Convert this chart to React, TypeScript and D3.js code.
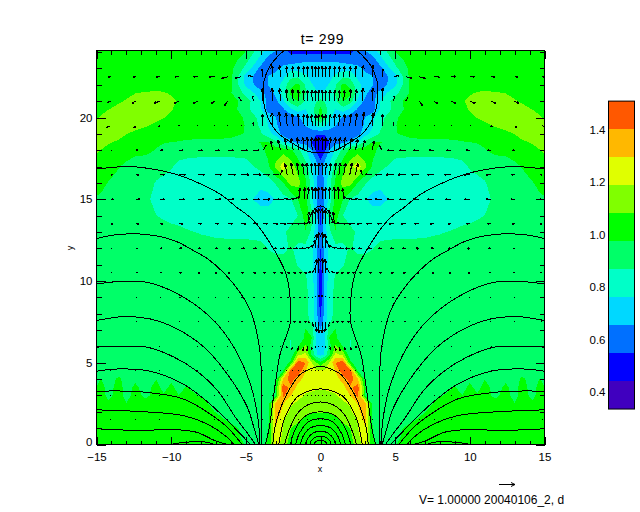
import { useEffect, useRef } from "react";
import * as d3 from "d3";

// grid of the density field, right half only, the left half is mirrored
const fieldY = [0, 0.5, 1, 1.5, 2, 2.5, 3, 3.5, 4, 4.5, 5, 5.5, 6, 6.5, 7, 7.5, 8, 9, 10, 11, 12, 13, 14, 15, 16, 17, 18, 18.5, 19, 19.5, 20, 20.5, 21, 21.5, 22, 22.5, 23, 23.5, 24.1];
const innerX = [0, 0.3, 0.6, 1, 1.5, 2, 2.5, 3, 3.5, 4];
const outerX = [5, 6, 7, 8, 9, 9.5, 10, 10.5, 11, 11.7, 12.4, 13, 13.5, 14.2, 14.7, 15];

const densityInner = [
  [1.03, 1.03, 1.03, 1.03, 1.03, 1.04, 1.13, 1.26, 1.0, 0.92],
  [1.03, 1.03, 1.03, 1.03, 1.04, 1.06, 1.16, 1.28, 0.98, 0.92],
  [1.04, 1.04, 1.04, 1.04, 1.06, 1.085, 1.19, 1.29, 0.97, 0.92],
  [1.05, 1.05, 1.05, 1.06, 1.09, 1.14, 1.19, 1.34, 0.95, 0.92],
  [1.085, 1.085, 1.09, 1.1, 1.14, 1.17, 1.27, 1.36, 0.93, 0.92],
  [1.12, 1.12, 1.13, 1.14, 1.17, 1.2, 1.3, 1.33, 0.92, 0.92],
  [1.17, 1.17, 1.17, 1.18, 1.22, 1.3, 1.43, 0.97, 0.92, 0.92],
  [1.2, 1.2, 1.21, 1.22, 1.26, 1.38, 1.46, 0.98, 0.92, 0.92],
  [1.24, 1.24, 1.24, 1.26, 1.33, 1.47, 1.3, 0.93, 0.92, 0.92],
  [1.2, 1.21, 1.22, 1.3, 1.48, 1.45, 0.97, 0.92, 0.92, 0.92],
  [1.02, 1.09, 1.2, 1.4, 1.48, 1.0, 0.92, 0.92, 0.92, 0.92],
  [0.72, 0.78, 0.96, 1.22, 1.15, 0.9, 0.92, 0.92, 0.92, 0.92],
  [0.72, 0.76, 0.93, 1.1, 0.97, 0.86, 0.92, 0.92, 0.92, 0.92],
  [0.68, 0.74, 0.98, 1.0, 0.9, 0.87, 0.92, 0.92, 0.92, 0.92],
  [0.66, 0.74, 0.95, 0.98, 0.9, 0.92, 0.92, 0.92, 0.92, 0.92],
  [0.6, 0.72, 0.85, 0.92, 0.92, 0.92, 0.92, 0.92, 0.92, 0.92],
  [0.52, 0.7, 0.82, 0.9, 0.92, 0.92, 0.92, 0.92, 0.92, 0.92],
  [0.48, 0.7, 0.82, 0.9, 0.92, 0.92, 0.92, 0.92, 0.92, 0.92],
  [0.47, 0.7, 0.81, 0.89, 0.92, 0.92, 0.92, 0.92, 0.92, 0.92],
  [0.52, 0.68, 0.8, 0.84, 0.86, 0.92, 0.92, 0.92, 0.92, 0.92],
  [0.55, 0.7, 0.78, 0.83, 0.84, 0.88, 0.84, 0.84, 0.865, 0.9],
  [0.58, 0.72, 0.84, 0.97, 0.93, 0.9, 0.85, 0.83, 0.83, 0.83],
  [0.5, 0.72, 0.92, 1.03, 0.87, 0.82, 0.82, 0.82, 0.82, 0.82],
  [0.58, 0.68, 0.8, 1.02, 0.98, 0.86, 0.83, 0.77, 0.72, 0.72],
  [0.55, 0.69, 0.83, 1.0, 1.12, 1.12, 0.97, 0.88, 0.82, 0.79],
  [0.58, 0.72, 0.78, 0.92, 1.04, 1.14, 1.26, 1.1, 0.96, 0.9],
  [0.5, 0.54, 0.66, 0.78, 0.9, 1.0, 1.03, 1.03, 1.0, 0.95],
  [0.48, 0.49, 0.55, 0.6, 0.62, 0.68, 0.76, 0.9, 0.98, 0.98],
  [0.56, 0.56, 0.58, 0.58, 0.56, 0.58, 0.62, 0.72, 0.8, 0.88],
  [0.8, 0.78, 0.72, 0.66, 0.58, 0.55, 0.58, 0.68, 0.76, 0.85],
  [1.0, 0.9, 0.78, 0.72, 0.64, 0.6, 0.58, 0.66, 0.74, 0.83],
  [1.0, 0.93, 0.8, 0.76, 0.82, 0.74, 0.64, 0.58, 0.6, 0.78],
  [0.9, 0.86, 0.78, 0.84, 0.98, 0.92, 0.74, 0.63, 0.62, 0.76],
  [0.76, 0.78, 0.8, 0.88, 1.03, 1.0, 0.8, 0.68, 0.6, 0.7],
  [0.73, 0.74, 0.77, 0.86, 1.0, 0.95, 0.8, 0.72, 0.66, 0.58],
  [0.72, 0.72, 0.74, 0.78, 0.86, 0.84, 0.74, 0.7, 0.66, 0.58],
  [0.72, 0.72, 0.72, 0.72, 0.72, 0.72, 0.7, 0.62, 0.58, 0.62],
  [0.64, 0.64, 0.64, 0.64, 0.62, 0.6, 0.58, 0.57, 0.6, 0.72],
  [0.5, 0.5, 0.5, 0.5, 0.5, 0.52, 0.57, 0.66, 0.72, 0.8],
];

const densityOuter = [
  [0.97, 1.03, 1.03, 1.03, 1.03, 1.03, 1.03, 1.03, 1.03, 1.03, 1.03, 1.03, 1.03, 1.03, 1.03, 1.03],
  [0.94, 1.03, 1.03, 1.03, 1.03, 1.03, 1.03, 1.03, 1.03, 1.03, 1.03, 1.03, 1.03, 1.03, 1.03, 1.03],
  [0.92, 1.03, 1.03, 1.03, 1.03, 1.03, 1.03, 1.03, 1.03, 1.03, 1.03, 1.03, 1.03, 1.03, 1.03, 1.03],
  [0.92, 0.94, 1.03, 1.03, 1.03, 1.03, 1.03, 1.03, 1.03, 1.03, 1.03, 1.03, 1.03, 1.03, 1.03, 1.03],
  [0.92, 0.92, 0.97, 1.03, 1.03, 1.03, 1.03, 1.03, 1.03, 1.03, 1.03, 1.03, 1.03, 1.03, 1.03, 1.03],
  [0.92, 0.92, 0.92, 1.03, 1.03, 1.03, 1.03, 1.03, 1.03, 1.03, 1.03, 0.98, 1.03, 1.0, 1.03, 1.03],
  [0.92, 0.92, 0.92, 0.96, 1.03, 0.98, 1.03, 1.0, 1.03, 0.94, 1.03, 0.92, 1.03, 0.94, 1.03, 1.03],
  [0.92, 0.92, 0.92, 0.92, 0.98, 0.92, 1.01, 0.92, 1.03, 0.92, 1.0, 0.92, 1.03, 0.92, 1.03, 0.98],
  [0.92, 0.92, 0.92, 0.92, 0.92, 0.92, 0.95, 0.92, 0.97, 0.92, 0.95, 0.92, 1.0, 0.92, 0.98, 0.92],
  [0.92, 0.92, 0.92, 0.92, 0.92, 0.92, 0.92, 0.92, 0.92, 0.92, 0.92, 0.92, 0.92, 0.92, 0.92, 0.92],
  [0.92, 0.92, 0.92, 0.92, 0.92, 0.92, 0.92, 0.92, 0.92, 0.92, 0.92, 0.92, 0.92, 0.92, 0.92, 0.92],
  [0.92, 0.92, 0.92, 0.92, 0.92, 0.92, 0.92, 0.92, 0.92, 0.92, 0.92, 0.92, 0.92, 0.92, 0.92, 0.92],
  [0.92, 0.92, 0.92, 0.92, 0.92, 0.92, 0.92, 0.92, 0.92, 0.92, 0.92, 0.92, 0.92, 0.92, 0.92, 0.92],
  [0.92, 0.92, 0.92, 0.92, 0.92, 0.92, 0.92, 0.92, 0.92, 0.92, 0.92, 0.92, 0.92, 0.92, 0.92, 0.92],
  [0.92, 0.92, 0.92, 0.92, 0.92, 0.92, 0.92, 0.92, 0.92, 0.92, 0.92, 0.92, 0.92, 0.92, 0.92, 0.92],
  [0.92, 0.92, 0.92, 0.92, 0.92, 0.92, 0.92, 0.92, 0.92, 0.92, 0.92, 0.92, 0.92, 0.92, 0.92, 0.92],
  [0.92, 0.92, 0.92, 0.92, 0.92, 0.92, 0.92, 0.92, 0.92, 0.92, 0.92, 0.92, 0.92, 0.92, 0.92, 0.92],
  [0.92, 0.92, 0.92, 0.92, 0.92, 0.92, 0.92, 0.92, 0.92, 0.92, 0.92, 0.92, 0.92, 0.92, 0.92, 0.92],
  [0.92, 0.92, 0.92, 0.92, 0.92, 0.92, 0.92, 0.92, 0.92, 0.92, 0.92, 0.92, 0.92, 0.92, 0.92, 0.92],
  [0.92, 0.92, 0.92, 0.92, 0.92, 0.92, 0.92, 0.92, 0.92, 0.92, 0.92, 0.92, 0.92, 0.92, 0.92, 0.92],
  [0.92, 0.92, 0.92, 0.92, 0.92, 0.92, 0.92, 0.92, 0.92, 0.92, 0.92, 0.92, 0.92, 0.92, 0.92, 0.92],
  [0.83, 0.83, 0.84, 0.86, 0.88, 0.9, 0.91, 0.92, 0.92, 0.92, 0.92, 0.92, 0.92, 0.92, 0.92, 0.92],
  [0.82, 0.82, 0.82, 0.82, 0.82, 0.82, 0.83, 0.85, 0.87, 0.9, 0.92, 0.92, 0.92, 0.92, 0.92, 0.93],
  [0.8, 0.82, 0.82, 0.82, 0.82, 0.82, 0.82, 0.82, 0.84, 0.89, 0.92, 0.92, 0.92, 0.95, 0.96, 0.96],
  [0.765, 0.82, 0.82, 0.82, 0.82, 0.82, 0.82, 0.84, 0.86, 0.92, 0.92, 0.92, 0.94, 0.97, 1.0, 1.03],
  [0.83, 0.82, 0.82, 0.82, 0.83, 0.84, 0.88, 0.9, 0.92, 0.92, 0.93, 0.95, 0.98, 1.03, 1.04, 1.05],
  [0.91, 0.905, 0.905, 0.905, 0.91, 0.92, 0.93, 0.95, 0.97, 1.0, 1.0, 1.03, 1.04, 1.06, 1.08, 1.09],
  [0.95, 0.95, 0.95, 0.95, 0.96, 0.97, 0.975, 0.98, 0.99, 1.01, 1.03, 1.05, 1.07, 1.09, 1.11, 1.12],
  [0.97, 1.0, 1.02, 1.01, 1.02, 1.03, 1.03, 1.03, 1.03, 1.04, 1.06, 1.085, 1.11, 1.13, 1.14, 1.14],
  [0.97, 1.03, 1.03, 1.03, 1.03, 1.03, 1.04, 1.05, 1.06, 1.09, 1.11, 1.13, 1.14, 1.14, 1.13, 1.13],
  [0.96, 1.03, 1.03, 1.03, 1.03, 1.04, 1.06, 1.085, 1.11, 1.13, 1.14, 1.14, 1.14, 1.12, 1.09, 1.07],
  [0.9, 1.03, 1.03, 1.03, 1.03, 1.05, 1.09, 1.12, 1.14, 1.14, 1.14, 1.12, 1.11, 1.08, 1.06, 1.04],
  [0.92, 1.03, 1.03, 1.03, 1.04, 1.07, 1.11, 1.14, 1.14, 1.13, 1.12, 1.09, 1.07, 1.05, 1.03, 1.03],
  [0.84, 0.98, 1.03, 1.03, 1.03, 1.04, 1.07, 1.09, 1.1, 1.09, 1.08, 1.06, 1.04, 1.03, 1.03, 1.03],
  [0.74, 1.0, 1.03, 1.03, 1.03, 1.03, 1.03, 1.03, 1.03, 1.03, 1.03, 1.03, 1.03, 1.03, 1.03, 1.03],
  [0.72, 1.0, 1.03, 1.03, 1.03, 1.03, 1.03, 1.03, 1.03, 1.03, 1.03, 1.03, 1.03, 1.03, 1.03, 1.03],
  [0.84, 1.0, 1.03, 1.03, 1.03, 1.03, 1.03, 1.03, 1.03, 1.03, 1.03, 1.03, 1.03, 1.03, 1.03, 1.03],
  [0.9, 1.03, 1.03, 1.03, 1.03, 1.03, 1.03, 1.03, 1.03, 1.03, 1.03, 1.03, 1.03, 1.03, 1.03, 1.03],
  [0.98, 1.03, 1.03, 1.03, 1.03, 1.03, 1.03, 1.03, 1.03, 1.03, 1.03, 1.03, 1.03, 1.03, 1.03, 1.03],
];

const bandLevels = [0.335, 0.442, 0.548, 0.655, 0.762, 0.869, 0.975, 1.082, 1.189, 1.295, 1.402, 1.509];
const bandColors = ["#4000bf", "#0000ff", "#0070ff", "#00d8ff", "#00ffc8", "#00ff68", "#00ff00", "#80ff00", "#e0ff00", "#ffb800", "#ff5800"];

// black contour lines, given from the edge or the x=0 apex down to y=0
const fluxLines: [number, number][][] = [
  [[15, 16.85], [13, 17], [11.6, 16.9], [9.8, 16.56], [8.25, 16.03], [6.7, 15.3], [5.6, 14.5], [4.6, 13.8], [3.3, 12.2], [2.3, 10.4], [2, 8.6], [2, 7.6], [2.15, 7], [2.7, 5.55], [3, 3.9], [3.46, 0.9], [3.7, 0]],
  [[15, 12.6], [13.6, 12.84], [11.6, 12.84], [9.8, 12.47], [8.5, 11.86], [7.4, 11.25], [5.8, 9.8], [4.7, 8.2], [4.1, 6], [3.97, 4.5], [3.97, 0]],
  [[15, 9.82], [12.95, 10], [11.4, 9.88], [9.15, 9], [7.15, 7.58], [5.8, 5.95], [4.7, 3.7], [4.2, 1.67], [4.05, 0]],
  [[15, 7.58], [13.2, 7.82], [11.4, 7.68], [9.6, 7.07], [7.8, 5.95], [6.25, 4.32], [4.9, 2.28], [4.45, 1], [4.13, 0]],
  [[15, 5.95], [14.1, 6], [11.6, 5.95], [9.8, 5.34], [8.3, 4.5], [6.9, 3.3], [5.7, 1.67], [4.9, 0.7], [4.35, 0]],
  [[15, 4.48], [13.6, 4.62], [11.4, 4.48], [9.2, 3.7], [7.4, 2.48], [5.8, 1.06], [4.69, 0]],
  [[15, 3.26], [12, 3.22], [9.2, 2.79], [7.4, 1.87], [6.25, 1.06], [5.25, 0]],
  [[15, 2.12], [11.4, 1.98], [9.2, 1.77], [7.6, 1.26], [6.25, 0.45], [5.8, 0]],
  [[15, 0.96], [12, 0.86], [10, 0.92], [8.3, 0.75], [7.1, 0.25], [6.25, 0]],
  [[10, 0], [9.6, 0.08], [8.7, 0.16], [7.6, 0.14], [7.1, 0]],
];
const fluxArches: [number, number][][] = [
  [[0, 17.85], [0.9, 17.95], [2, 18.5], [2.9, 19.1], [3.57, 20.1], [3.8, 20.9], [3.85, 21.6], [3.8, 22.2], [3.35, 23.2], [2.45, 24.1]],
  [[0, 14.6], [0.4, 14.4], [0.7, 13.9], [0.85, 13.6]],
  [[0, 4.78], [0.6, 4.65], [1.34, 4.3], [2, 3.5], [2.46, 2.7], [3, 1.27], [3.2, 0]],
  [[0, 3.4], [0.7, 3.3], [1.56, 2.9], [2.1, 2.2], [2.46, 1.47], [2.8, 0]],
  [[0, 2.6], [0.8, 2.45], [1.56, 1.88], [2.2, 0.65], [2.4, 0]],
  [[0, 2], [0.7, 1.9], [1.34, 1.47], [1.9, 0.45], [2, 0]],
  [[0, 1.57], [0.8, 1.4], [1.4, 0.7], [1.67, 0]],
  [[0, 1.16], [0.7, 1], [1.2, 0.45], [1.34, 0]],
  [[0, 0.82], [0.5, 0.7], [0.9, 0.3], [1, 0]],
  [[0, 0.51], [0.4, 0.42], [0.65, 0.18], [0.71, 0]],
  [[0, 0.25], [0.25, 0.2], [0.42, 0.08], [0.45, 0]],
];

// velocity arrows: the sampled grid is not quite the same on both sides
const arrowRows = [1.5, 3, 4.5, 6, 7.5, 9, 10.5, 12, 13.5, 15, 16.5, 18, 19.5, 21, 22.5];
const arrowColsRight = [0.11, 0.35, 0.62, 0.94, 1.23, 1.56, 1.96, 2.34, 2.8, 3.46, 4.13, 4.9, 5.7, 6.6, 7.6, 8.75, 10, 11.4, 13, 14.85];
const arrowColsLeft = [0.11, 0.33, 0.56, 0.85, 1.1, 1.45, 1.83, 2.23, 2.68, 3.2, 3.85, 4.5, 5.3, 6.2, 7.08, 8.2, 9.45, 10.75, 12.35, 14.06];
// u is outward from x=0, v is upward
const arrowU = [
  [0.04, 0.04, 0.04, 0.04, 0.04, 0.04, 0.04, 0.04, 0.04, 0.04, 0.04, 0.04, 0.04, 0.04, 0.04, 0.04, 0.04, 0.04, 0.04, 0.04],
  [0.04, 0.04, 0.04, 0.04, 0.04, 0.04, 0.04, 0.04, 0.04, 0.04, 0.04, 0.04, 0.04, 0.04, 0.04, 0.04, 0.04, 0.04, 0.04, 0.04],
  [0.05, 0.05, 0.05, 0.05, 0.05, 0.05, 0.05, 0.05, 0.05, 0.05, 0.05, 0.05, 0.05, 0.05, 0.05, 0.05, 0.05, 0.05, 0.05, 0.05],
  [0, 0.02, 0.06, 0.08, 0.1, 0.1, 0.1, 0.08, 0.06, 0.05, 0.05, 0.05, 0.05, 0.05, 0.05, 0.05, 0.05, 0.05, 0.05, 0.05],
  [0, -0.05, -0.1, -0.13, -0.15, -0.15, -0.15, -0.12, -0.1, -0.1, -0.1, -0.08, -0.08, -0.08, -0.07, -0.07, -0.06, -0.06, -0.05, -0.05],
  [0, 0, -0.05, -0.08, -0.1, -0.12, -0.12, -0.12, -0.12, -0.1, -0.1, -0.1, -0.08, -0.08, -0.08, -0.07, -0.07, -0.06, -0.06, -0.06],
  [0, -0.05, -0.2, -0.2, -0.2, -0.18, -0.18, -0.18, -0.18, -0.18, -0.16, -0.16, -0.15, -0.14, -0.14, -0.13, -0.13, -0.12, -0.12, -0.12],
  [0, -0.05, -0.2, -0.35, -0.35, -0.3, -0.3, -0.28, -0.25, -0.25, -0.25, -0.22, -0.2, -0.2, -0.2, -0.18, -0.18, -0.15, -0.12, -0.12],
  [0, -0.03, -0.05, -0.1, -0.45, -0.45, -0.4, -0.4, -0.35, -0.35, -0.3, -0.3, -0.3, -0.3, -0.25, -0.22, -0.22, -0.2, -0.18, -0.15],
  [0, 0, 0, -0.03, -0.05, -0.08, -0.4, -0.45, -0.45, -0.45, -0.45, -0.42, -0.4, -0.4, -0.4, -0.38, -0.35, -0.3, -0.25, -0.2],
  [0, 0.03, 0.05, 0.08, 0.1, 0.12, 0.15, 0.15, -0.1, -0.42, -0.42, -0.5, -0.5, -0.5, -0.42, -0.42, -0.38, -0.3, -0.2, -0.13],
  [0, 0, 0.03, 0.05, 0.08, 0.1, 0.12, 0.15, 0.15, 0.12, -0.2, -0.38, -0.38, -0.35, -0.32, -0.3, -0.25, -0.2, -0.14, -0.12],
  [0, 0, 0.02, 0.03, 0.03, 0.05, 0.06, 0.08, 0.1, 0.06, 0.03, -0.02, -0.05, 0.05, 0.05, 0.05, 0.05, 0.1, 0.15, 0.25],
  [0, 0, 0.02, 0.03, 0.03, 0.04, 0.05, 0.05, 0.05, 0.05, 0.03, 0.05, 0.15, 0.25, 0.25, 0.3, 0.35, 0.35, 0.25, 0.22],
  [0, 0, 0.01, 0.02, 0.02, 0.03, 0.03, 0.03, 0.05, 0.05, 0.08, 0.35, 0.38, 0.4, 0.35, 0.3, 0.3, 0.25, 0.2, 0.15],
];
const arrowV = [
  [0.02, 0.02, 0.02, 0.02, 0.02, 0.02, 0.02, 0.02, 0.02, 0.02, 0, 0, 0, 0, 0, 0, 0, 0, 0, 0],
  [0.02, 0.02, 0.02, 0.02, 0.02, 0.02, 0.02, 0.02, 0.02, 0.02, 0, 0, 0, 0, 0, 0, 0, 0, 0, 0],
  [0.02, 0.02, 0.02, 0.02, 0.02, 0.02, 0.02, 0.02, 0.02, 0.02, 0, 0, 0, 0, 0, 0, 0, 0, 0, 0],
  [-0.05, -0.1, -0.2, -0.3, -0.3, -0.25, -0.2, -0.1, -0.05, 0, 0, 0, 0, 0, 0, 0, 0, 0, 0, 0],
  [-0.7, -0.6, -0.3, -0.05, 0, 0, 0, 0, 0, 0, 0, 0, 0, 0, 0, 0, 0, 0, 0, 0],
  [0.15, 0.1, 0, 0, 0, 0, 0, 0, 0, 0, 0, 0, 0, 0, 0, 0, 0, 0, 0, 0],
  [0.9, 0.85, 0.3, 0.1, 0, 0, 0, 0, 0, 0, 0, 0, 0, 0, 0, 0, 0, 0, 0, 0],
  [1.0, 0.9, 0.5, 0.2, 0.05, 0, 0, 0, 0, 0, 0, 0, 0, 0, 0, 0, 0, 0, 0, 0],
  [0.95, 0.9, 0.85, 0.75, 0.1, 0.03, 0, 0, 0, 0, 0, 0, 0, 0, 0, 0, 0, 0, 0, 0],
  [0.75, 0.75, 0.75, 0.75, 0.75, 0.7, 0.15, 0.03, 0.03, 0, 0, 0, 0, 0, 0, 0, 0, 0, 0, 0],
  [0.75, 0.75, 0.75, 0.75, 0.75, 0.75, 0.75, 0.7, 0.3, 0.02, 0, 0, 0, 0, 0, 0, 0, 0, 0, 0],
  [0.8, 0.8, 0.8, 0.8, 0.8, 0.8, 0.75, 0.7, 0.65, 0.6, 0.3, 0, 0, 0, 0, 0, 0, 0, 0, 0],
  [0.7, 0.7, 0.7, 0.7, 0.72, 0.72, 0.75, 0.8, 0.85, 0.8, 0.75, 0.2, 0.06, 0.05, 0.05, 0.05, 0.04, -0.08, -0.12, -0.15],
  [0.7, 0.7, 0.7, 0.7, 0.7, 0.7, 0.75, 0.75, 0.8, 0.8, 0.85, 0.35, 0.25, -0.3, -0.18, -0.12, -0.12, -0.12, -0.12, -0.1],
  [0.65, 0.65, 0.65, 0.65, 0.65, 0.65, 0.65, 0.65, 0.7, 0.7, 0.5, 0.08, -0.1, -0.12, -0.03, 0, 0, -0.02, -0.02, -0.02],
];

const xMajor = [-15, -10, -5, 0, 5, 10, 15];
const xMinor = d3.range(-15, 16);
const yMajor = [0, 5, 10, 15, 20];
const yMinor = d3.range(0, 25);
const barLabels = [0.4, 0.6, 0.8, 1.0, 1.2, 1.4];
const barMinor = [0.35, 0.4, 0.45, 0.5, 0.55, 0.6, 0.65, 0.7, 0.75, 0.8, 0.85, 0.9, 0.95, 1.0, 1.05, 1.1, 1.15, 1.2, 1.25, 1.3, 1.35, 1.4, 1.45, 1.5];

const titleText = "t= 299";
const footerText = "V= 1.00000 20040106_2, d";
const FONT = "'Liberation Sans', sans-serif";
const ARROW_PX = 16; // pixels for V = 1, same as the key arrow

const App = () => {
  const svgRef = useRef<SVGSVGElement | null>(null);

  useEffect(() => {
    const svg = d3.select(svgRef.current);
    svg.selectAll("*").remove();

    const plot = { left: 96.5, right: 544.5, top: 50.5, bottom: 444.5 };
    const x = d3.scaleLinear().domain([-15, 15]).range([plot.left, plot.right]);
    const y = d3.scaleLinear().domain([0, 24.1]).range([plot.bottom, plot.top]);

    svg.append("rect").attr("width", 640).attr("height", 512).attr("fill", "white");

    // mirror the half grid
    const allX = [...[...innerX, ...outerX].slice(1).reverse().map((d) => -d), ...innerX, ...outerX];
    const nCols = allX.length;
    const values: number[] = [];
    fieldY.forEach((_, j) => {
      const half = [...densityInner[j], ...densityOuter[j]];
      values.push(...half.slice(1).reverse(), ...half);
    });

    // contours work in grid index space, value i sits at i + 0.5
    const gridToX = d3.scaleLinear().domain(allX.map((_, i) => i + 0.5)).range(allX).clamp(true);
    const gridToY = d3.scaleLinear().domain(fieldY.map((_, j) => j + 0.5)).range(fieldY).clamp(true);
    const toScreen = d3.geoTransform({
      point(px, py) {
        this.stream.point(x(gridToX(px)), y(gridToY(py)));
      },
    });
    const contourPath = d3.geoPath(toScreen);
    const bands = d3.contours().size([nCols, fieldY.length]).thresholds(bandLevels.slice(0, -1))(values);

    svg.append("defs").append("clipPath").attr("id", "plot-clip").append("rect")
      .attr("x", plot.left).attr("y", plot.top)
      .attr("width", plot.right - plot.left).attr("height", plot.bottom - plot.top);

    const inner = svg.append("g").attr("clip-path", "url(#plot-clip)");
    inner.append("rect")
      .attr("x", plot.left).attr("y", plot.top)
      .attr("width", plot.right - plot.left).attr("height", plot.bottom - plot.top)
      .attr("fill", bandColors[0]);
    inner.selectAll(".band").data(bands).enter().append("path")
      .attr("class", "band")
      .attr("d", (d) => contourPath(d))
      .attr("fill", (_, i) => bandColors[i])
      .attr("shape-rendering", "crispEdges");

    // flux lines
    const line = d3.line<[number, number]>()
      .x((d) => x(d[0])).y((d) => y(d[1]))
      .curve(d3.curveCatmullRom);
    const flip = (pts: [number, number][]) => pts.map((p) => [-p[0], p[1]] as [number, number]);
    const lines: [number, number][][] = [];
    fluxLines.forEach((pts) => lines.push(pts, flip(pts)));
    fluxArches.forEach((pts) => lines.push([...flip(pts).reverse().slice(0, -1), ...pts]));
    inner.selectAll(".flux").data(lines).enter().append("path")
      .attr("class", "flux")
      .attr("d", (d) => line(d))
      .attr("fill", "none").attr("stroke", "black").attr("stroke-width", 1)
      .attr("shape-rendering", "crispEdges");

    // velocity arrows
    const arrowPath = d3.path();
    const addArrow = (x0: number, y0: number, dx: number, dy: number) => {
      const x1 = x0 + dx;
      const y1 = y0 + dy;
      arrowPath.moveTo(x0, y0);
      arrowPath.lineTo(x1, y1);
      const len = Math.hypot(dx, dy);
      if (len < 2) return;
      const head = Math.max(len * 0.3, 2);
      const ang = Math.atan2(dy, dx);
      [-0.4, 0.4].forEach((a) => {
        arrowPath.moveTo(x1, y1);
        arrowPath.lineTo(x1 - head * Math.cos(ang + a), y1 - head * Math.sin(ang + a));
      });
    };
    arrowRows.forEach((row, r) => {
      arrowColsRight.forEach((col, c) => {
        const u = arrowU[r][c] * ARROW_PX;
        const v = arrowV[r][c] * ARROW_PX;
        const hasLength = Math.abs(u) + Math.abs(v) > 0;
        addArrow(x(col), y(row), hasLength ? u : 1, -v);
        addArrow(x(-arrowColsLeft[c]), y(row), hasLength ? -u : 1, -v);
      });
    });
    inner.append("path").attr("d", arrowPath.toString())
      .attr("fill", "none").attr("stroke", "black").attr("stroke-width", 1)
      .attr("shape-rendering", "crispEdges");

    // frame and ticks
    const axes = svg.append("g");
    const place = (cls: string, tx: number, ty: number) =>
      axes.append("g").attr("class", cls).attr("transform", `translate(${tx},${ty})`);
    place("ax", 0, plot.bottom).call(d3.axisBottom(x).tickValues(xMajor).tickSizeInner(-8).tickSizeOuter(0).tickPadding(8));
    place("ax", 0, plot.bottom).call(d3.axisBottom(x).tickValues(xMinor).tickSizeInner(-4).tickSizeOuter(0).tickFormat(() => ""));
    place("ax", 0, plot.top).call(d3.axisTop(x).tickValues(xMajor).tickSizeInner(-8).tickSizeOuter(0).tickFormat(() => ""));
    place("ax", 0, plot.top).call(d3.axisTop(x).tickValues(xMinor).tickSizeInner(-4).tickSizeOuter(0).tickFormat(() => ""));
    const yLabels = place("ax", plot.left, 0);
    yLabels.call(d3.axisLeft(y).tickValues(yMajor).tickSizeInner(-9).tickSizeOuter(0).tickPadding(4));
    // the 0 label sits a little above its tick in the original
    yLabels.selectAll<SVGTextElement, number>("text").filter((d) => d === 0).attr("y", -3);
    place("ax", plot.left, 0).call(d3.axisLeft(y).tickValues(yMinor).tickSizeInner(-5).tickSizeOuter(0).tickFormat(() => ""));
    place("ax", plot.right, 0).call(d3.axisRight(y).tickValues(yMajor).tickSizeInner(-9).tickSizeOuter(0).tickFormat(() => ""));
    place("ax", plot.right, 0).call(d3.axisRight(y).tickValues(yMinor).tickSizeInner(-5).tickSizeOuter(0).tickFormat(() => ""));

    // colour bar
    const bar = { left: 608.5, right: 634.5 };
    const barY = d3.scaleLinear().domain([0.4, 1.4]).range([392, 129.7]);
    svg.append("g").selectAll("rect").data(bandColors).enter().append("rect")
      .attr("x", bar.left).attr("width", bar.right - bar.left)
      .attr("y", (_, i) => barY(bandLevels[i + 1]))
      .attr("height", (_, i) => barY(bandLevels[i]) - barY(bandLevels[i + 1]))
      .attr("fill", (d) => d)
      .attr("shape-rendering", "crispEdges");
    svg.append("rect")
      .attr("x", bar.left).attr("width", bar.right - bar.left)
      .attr("y", barY(1.509)).attr("height", barY(0.335) - barY(1.509))
      .attr("fill", "none").attr("stroke", "black");
    place("ax", bar.left, 0).call(d3.axisLeft(barY).tickValues(barLabels).tickSize(0).tickPadding(3).tickFormat(d3.format(".1f") as any));
    place("ax", bar.right, 0).call(d3.axisRight(barY).tickValues(barMinor).tickSizeInner(-3).tickSizeOuter(0).tickFormat(() => ""));

    svg.selectAll(".ax text").attr("font-family", FONT).attr("font-size", 11.5).attr("fill", "black");
    svg.selectAll(".ax line, .ax path").attr("shape-rendering", "crispEdges").attr("stroke", "black");
    svg.selectAll(".ax path.domain").attr("display", "none");
    svg.append("rect")
      .attr("x", plot.left).attr("y", plot.top)
      .attr("width", plot.right - plot.left).attr("height", plot.bottom - plot.top)
      .attr("fill", "none").attr("stroke", "black").attr("shape-rendering", "crispEdges");

    // titles
    const label = (text: string, tx: number, ty: number, size: number, anchor = "middle") =>
      svg.append("text").text(text)
        .attr("x", tx).attr("y", ty)
        .attr("font-family", FONT).attr("font-size", size)
        .attr("text-anchor", anchor).attr("dominant-baseline", "middle").attr("fill", "black");
    label(titleText, 322.5, 40, 14).attr("letter-spacing", 0.7);
    label("x", 320, 470, 9);
    label("y", 71, 248, 9).attr("transform", "rotate(-90 71 248)");
    label(footerText, 419, 501, 12, "start");

    // key arrow
    const keyPath = d3.path();
    keyPath.moveTo(499, 484.5);
    keyPath.lineTo(499 + ARROW_PX, 484.5);
    keyPath.moveTo(499 + ARROW_PX, 484.5);
    keyPath.lineTo(499 + ARROW_PX - 4, 482.5);
    keyPath.moveTo(499 + ARROW_PX, 484.5);
    keyPath.lineTo(499 + ARROW_PX - 4, 486.5);
    svg.append("path").attr("d", keyPath.toString()).attr("fill", "none").attr("stroke", "black");
  }, []);

  return (
    <svg
      ref={svgRef}
      width={640}
      height={512}
      style={{ position: "absolute", left: 0, top: 0 }}
    ></svg>
  );
};

export default App;
